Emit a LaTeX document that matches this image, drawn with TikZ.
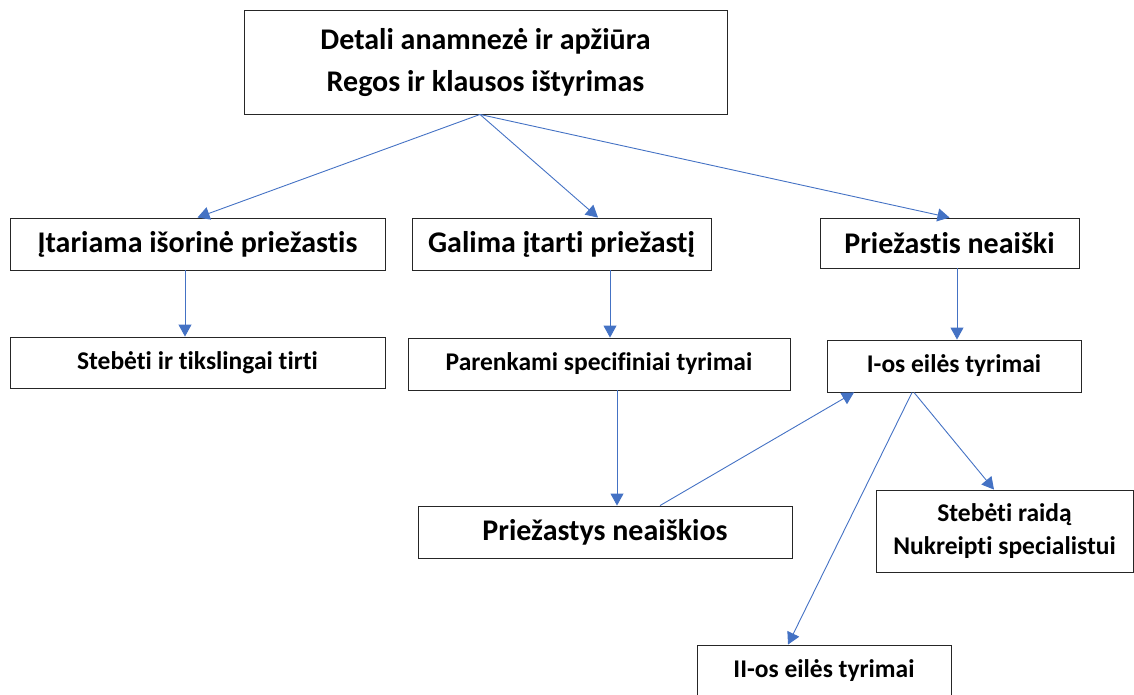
\documentclass[tikz,border=0pt]{standalone}
\usepackage{fontspec}
\setmainfont{Carlito}[Ligatures=NoCommon]
\usetikzlibrary{arrows.meta}
\definecolor{linkblue}{HTML}{4472C4}

\tikzset{
  box/.style={draw=black!85, line width=0.9pt, rectangle, align=center, inner sep=0pt},
  big/.style={font=\fontsize{30}{42}\selectfont\bfseries},
  small/.style={font=\fontsize{25.5}{33}\selectfont\bfseries},
  link/.style={draw=linkblue, line width=0.9pt, -{Triangle[length=12pt,width=13pt]}}
}

\begin{document}
\begin{tikzpicture}[x=1pt, y=-1pt]
				\useasboundingbox (0,0) rectangle (1134,694);
				\node (anamneze) [box, big, minimum width=483pt, minimum height=104pt] at (485.5,62) {Detali anamnezė ir apžiūra\\Regos ir klausos ištyrimas};
				\node (isorine) [box, big, minimum width=375pt, minimum height=52pt] at (197.5,244) {Įtariama išorinė priežastis};
				\node (galima) [box, big, minimum width=299pt, minimum height=52pt] at (561.5,244) {Galima įtarti priežastį};
				\node (neaiski) [box, big, minimum width=259pt, minimum height=50pt] at (949.5,243) {Priežastis neaiški};
				\node (stebeti) [box, small, minimum width=375pt, minimum height=51pt] at (197.5,362.5) {Stebėti ir tikslingai tirti};
				\node (specif) [box, small, minimum width=382pt, minimum height=52pt] at (599,364) {Parenkami specifiniai tyrimai};
				\node (eiles1) [box, small, minimum width=254pt, minimum height=52pt] at (954,366) {I-os eilės tyrimai};
				\node (neaiskios) [box, big, minimum width=374pt, minimum height=52pt] at (605,532) {Priežastys neaiškios};
				\node (raida) [box, small, minimum width=257pt, minimum height=82pt] at (1004.5,531) {Stebėti raidą\\Nukreipti specialistui};
				\node (eiles2) [box, small, minimum width=254pt, minimum height=52pt] at (824,671) {II-os eilės tyrimai};
				
				% Arrows
				\draw[link] ([xshift=-5.5pt]anamneze.south) -- (isorine.north);
				\draw[link] ([xshift=-5.5pt]anamneze.south) -- ([xshift=36.5pt]galima.north);
				\draw[link] ([xshift=-5.5pt]anamneze.south) -- (neaiski.north);
				\draw[link] ([xshift=-12.5pt]isorine.south) -- ([xshift=-12.5pt]stebeti.north);
				\draw[link] ([xshift=48.5pt]galima.south) -- ([xshift=11pt]specif.north);
				\draw[link] ([xshift=7.5pt]neaiski.south) -- ([xshift=3pt]eiles1.north);
				\draw[link] ([xshift=18pt]specif.south) -- ([xshift=12pt]neaiskios.north);
				\draw[link] ([xshift=55pt]neaiskios.north) -- ([xshift=-100pt]eiles1.south);
				\draw[link] ([xshift=-42pt]eiles1.south) -- ([xshift=-36pt]eiles2.north);
				\draw[link] ([xshift=-40pt]eiles1.south) -- ([xshift=-10.5pt]raida.north);
				
\end{tikzpicture}
\end{document}
